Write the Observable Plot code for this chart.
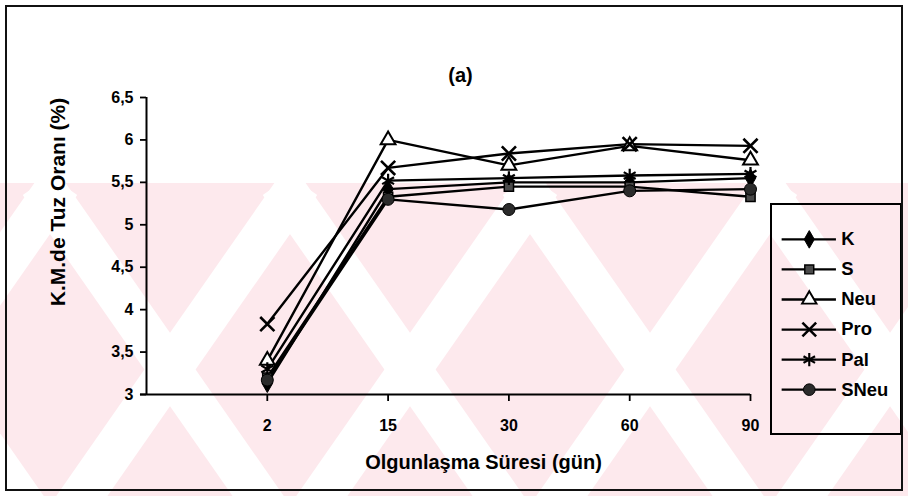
<!DOCTYPE html>
<html>
<head>
<meta charset="utf-8">
<script src="https://cdn.jsdelivr.net/npm/d3@7"></script>
<script src="https://cdn.jsdelivr.net/npm/@observablehq/plot@0.6"></script>
<style>
  body { margin: 0; background: #fff; }
  #fig { position: relative; width: 908px; height: 496px; overflow: hidden; }
  #fig > * { position: absolute; }
  #backdrop { left: 0; top: 0; }
  #chart { left: 0; top: 0; }
  #legend { left: 770px; top: 203px; width: 132px; height: 232px; box-sizing: border-box; border: 2px solid #000; }
  #legend svg { position: absolute; left: -2px; top: -2px; }
  #outline { left: 5px; top: 5px; width: 898px; height: 486px; box-sizing: border-box; border: 2px solid #111; pointer-events: none; }
</style>
</head>
<body>
<div id="fig"></div>
<script>
// Ripening time categories (days) and y-axis ticks
const days = ["2", "15", "30", "60", "90"];
const yTicks = [3, 3.5, 4, 4.5, 5, 5.5, 6, 6.5];
const seriesNames = ["K", "S", "Neu", "Pro", "Pal", "SNeu"];

// Salt content in dry matter (%) for each cheese group
const K    = [3.13, 5.42, 5.50, 5.50, 5.55];
const S    = [3.20, 5.33, 5.45, 5.45, 5.33];
const Neu  = [3.40, 6.00, 5.70, 5.93, 5.76];
const Pro  = [3.83, 5.67, 5.84, 5.95, 5.93];
const Pal  = [3.30, 5.52, 5.55, 5.58, 5.60];
const SNeu = [3.17, 5.30, 5.18, 5.40, 5.42];

const seriesValues = {K, S, Neu, Pro, Pal, SNeu};

const markers = {
  K:    {symbol: "diamond",  fill: "#000", stroke: "#000", r: 5.5, strokeWidth: 1},
  S:    {symbol: "square",   fill: "#4a4a4a", stroke: "#000", r: 5.2, strokeWidth: 1.5},
  Neu:  {symbol: "triangle", fill: "#fff", stroke: "#000", r: 5.5, strokeWidth: 2},
  Pro:  {symbol: "times",    fill: "none", stroke: "#000", r: 6.5, strokeWidth: 2.6},
  Pal:  {symbol: "asterisk", fill: "none", stroke: "#000", r: 6.5, strokeWidth: 2.2},
  SNeu: {symbol: "circle",   fill: "#2b2b2b", stroke: "#000", r: 6, strokeWidth: 1}
};

const rows = seriesNames.flatMap(name =>
  seriesValues[name].map((v, i) => ({name, i, v}))
);

const narrow = "'Liberation Sans Narrow', 'Arial Narrow', 'Liberation Sans', sans-serif";
const wide = "'Liberation Sans', Arial, sans-serif";
const comma = d => String(d).replace(".", ",");

const fig = document.getElementById("fig");

// faint pink diagonal print behind the lower part of the figure
const W = 908, H = 496, bandTop = 183;
const back = d3.create("svg").attr("id", "backdrop").attr("width", W).attr("height", H);
back.append("rect").attr("x", 0).attr("y", bandTop).attr("width", W).attr("height", H - bandTop).attr("fill", "#fde9ed");
const clip = back.append("clipPath").attr("id", "band");
clip.append("rect").attr("x", 0).attr("y", bandTop).attr("width", W).attr("height", H - bandTop);
const g = back.append("g").attr("clip-path", "url(#band)").attr("stroke", "#fff").attr("stroke-width", 42);
for (let k = -4; k < 8; k++) {
  const x0 = k * 240 + 40;
  g.append("line").attr("x1", x0).attr("y1", bandTop).attr("x2", x0 + 260).attr("y2", H + 60);
  g.append("line").attr("x1", x0 + 260).attr("y1", bandTop).attr("x2", x0).attr("y2", H + 60);
}
fig.append(back.node());

const chart = Plot.plot({
  width: W,
  height: H,
  marginLeft: 146,
  marginRight: 158,
  marginTop: 97,
  marginBottom: 102,
  style: {background: "transparent", overflow: "visible"},
  x: {type: "linear", domain: [-1, days.length - 1], axis: null},
  y: {domain: [3, 6.5], axis: null},
  marks: [
    Plot.ruleX([-1], {y1: 3, y2: 6.5, strokeWidth: 2}),
    Plot.ruleY([3], {x1: -1.05, x2: days.length - 1, strokeWidth: 2}),
    Plot.axisY(yTicks, {
      tickSize: 6, tickPadding: 7, strokeWidth: 1.8, tickFormat: comma,
      fontSize: 16, fontWeight: "bold", fontFamily: narrow, label: null
    }),
    Plot.axisX(d3.range(days.length), {
      tickSize: 7, tickPadding: 18, strokeWidth: 1.8, tickFormat: i => days[i],
      fontSize: 16, fontWeight: "bold", fontFamily: narrow, label: null
    }),
    Plot.lineY(rows, {x: "i", y: "v", z: "name", stroke: "#000", strokeWidth: 2.4}),
    ...seriesNames.map(name =>
      Plot.dot(rows.filter(d => d.name === name), {x: "i", y: "v", ...markers[name]})
    ),
    Plot.text(["(a)"], {frameAnchor: "top", dx: 12, dy: -30, fontSize: 20, fontWeight: "bold", fontFamily: narrow}),
    Plot.text(["K.M.de Tuz Oranı (%)"], {
      frameAnchor: "left", textAnchor: "middle", dx: -88, dy: -44, rotate: -90,
      fontSize: 21, fontWeight: "bold", fontFamily: wide
    }),
    Plot.text(["Olgunlaşma Süresi (gün)"], {
      frameAnchor: "bottom", dx: 35, dy: 74, fontSize: 20, fontWeight: "bold", fontFamily: wide
    })
  ]
});
chart.id = "chart";
fig.append(chart);

// legend box: sample line, marker and name for every series
const legendBox = document.createElement("div");
legendBox.id = "legend";
const legend = Plot.plot({
  width: 132,
  height: 232,
  marginLeft: 12,
  marginRight: 64,
  marginTop: 19,
  marginBottom: 23,
  style: {background: "transparent", overflow: "visible"},
  x: {domain: [0, 1], axis: null},
  y: {type: "point", domain: seriesNames, axis: null},
  marks: [
    Plot.ruleY(seriesNames, {y: d => d, x1: 0, x2: 1, strokeWidth: 2.4}),
    ...seriesNames.map(name => Plot.dot([name], {x: 0.5, y: d => d, ...markers[name]})),
    Plot.text(seriesNames, {
      x: 1, y: d => d, dx: 5, textAnchor: "start",
      fontSize: 19, fontWeight: "bold", fontFamily: wide
    })
  ]
});
legendBox.append(legend);
fig.append(legendBox);

const outline = document.createElement("div");
outline.id = "outline";
fig.append(outline);
</script>
</body>
</html>
